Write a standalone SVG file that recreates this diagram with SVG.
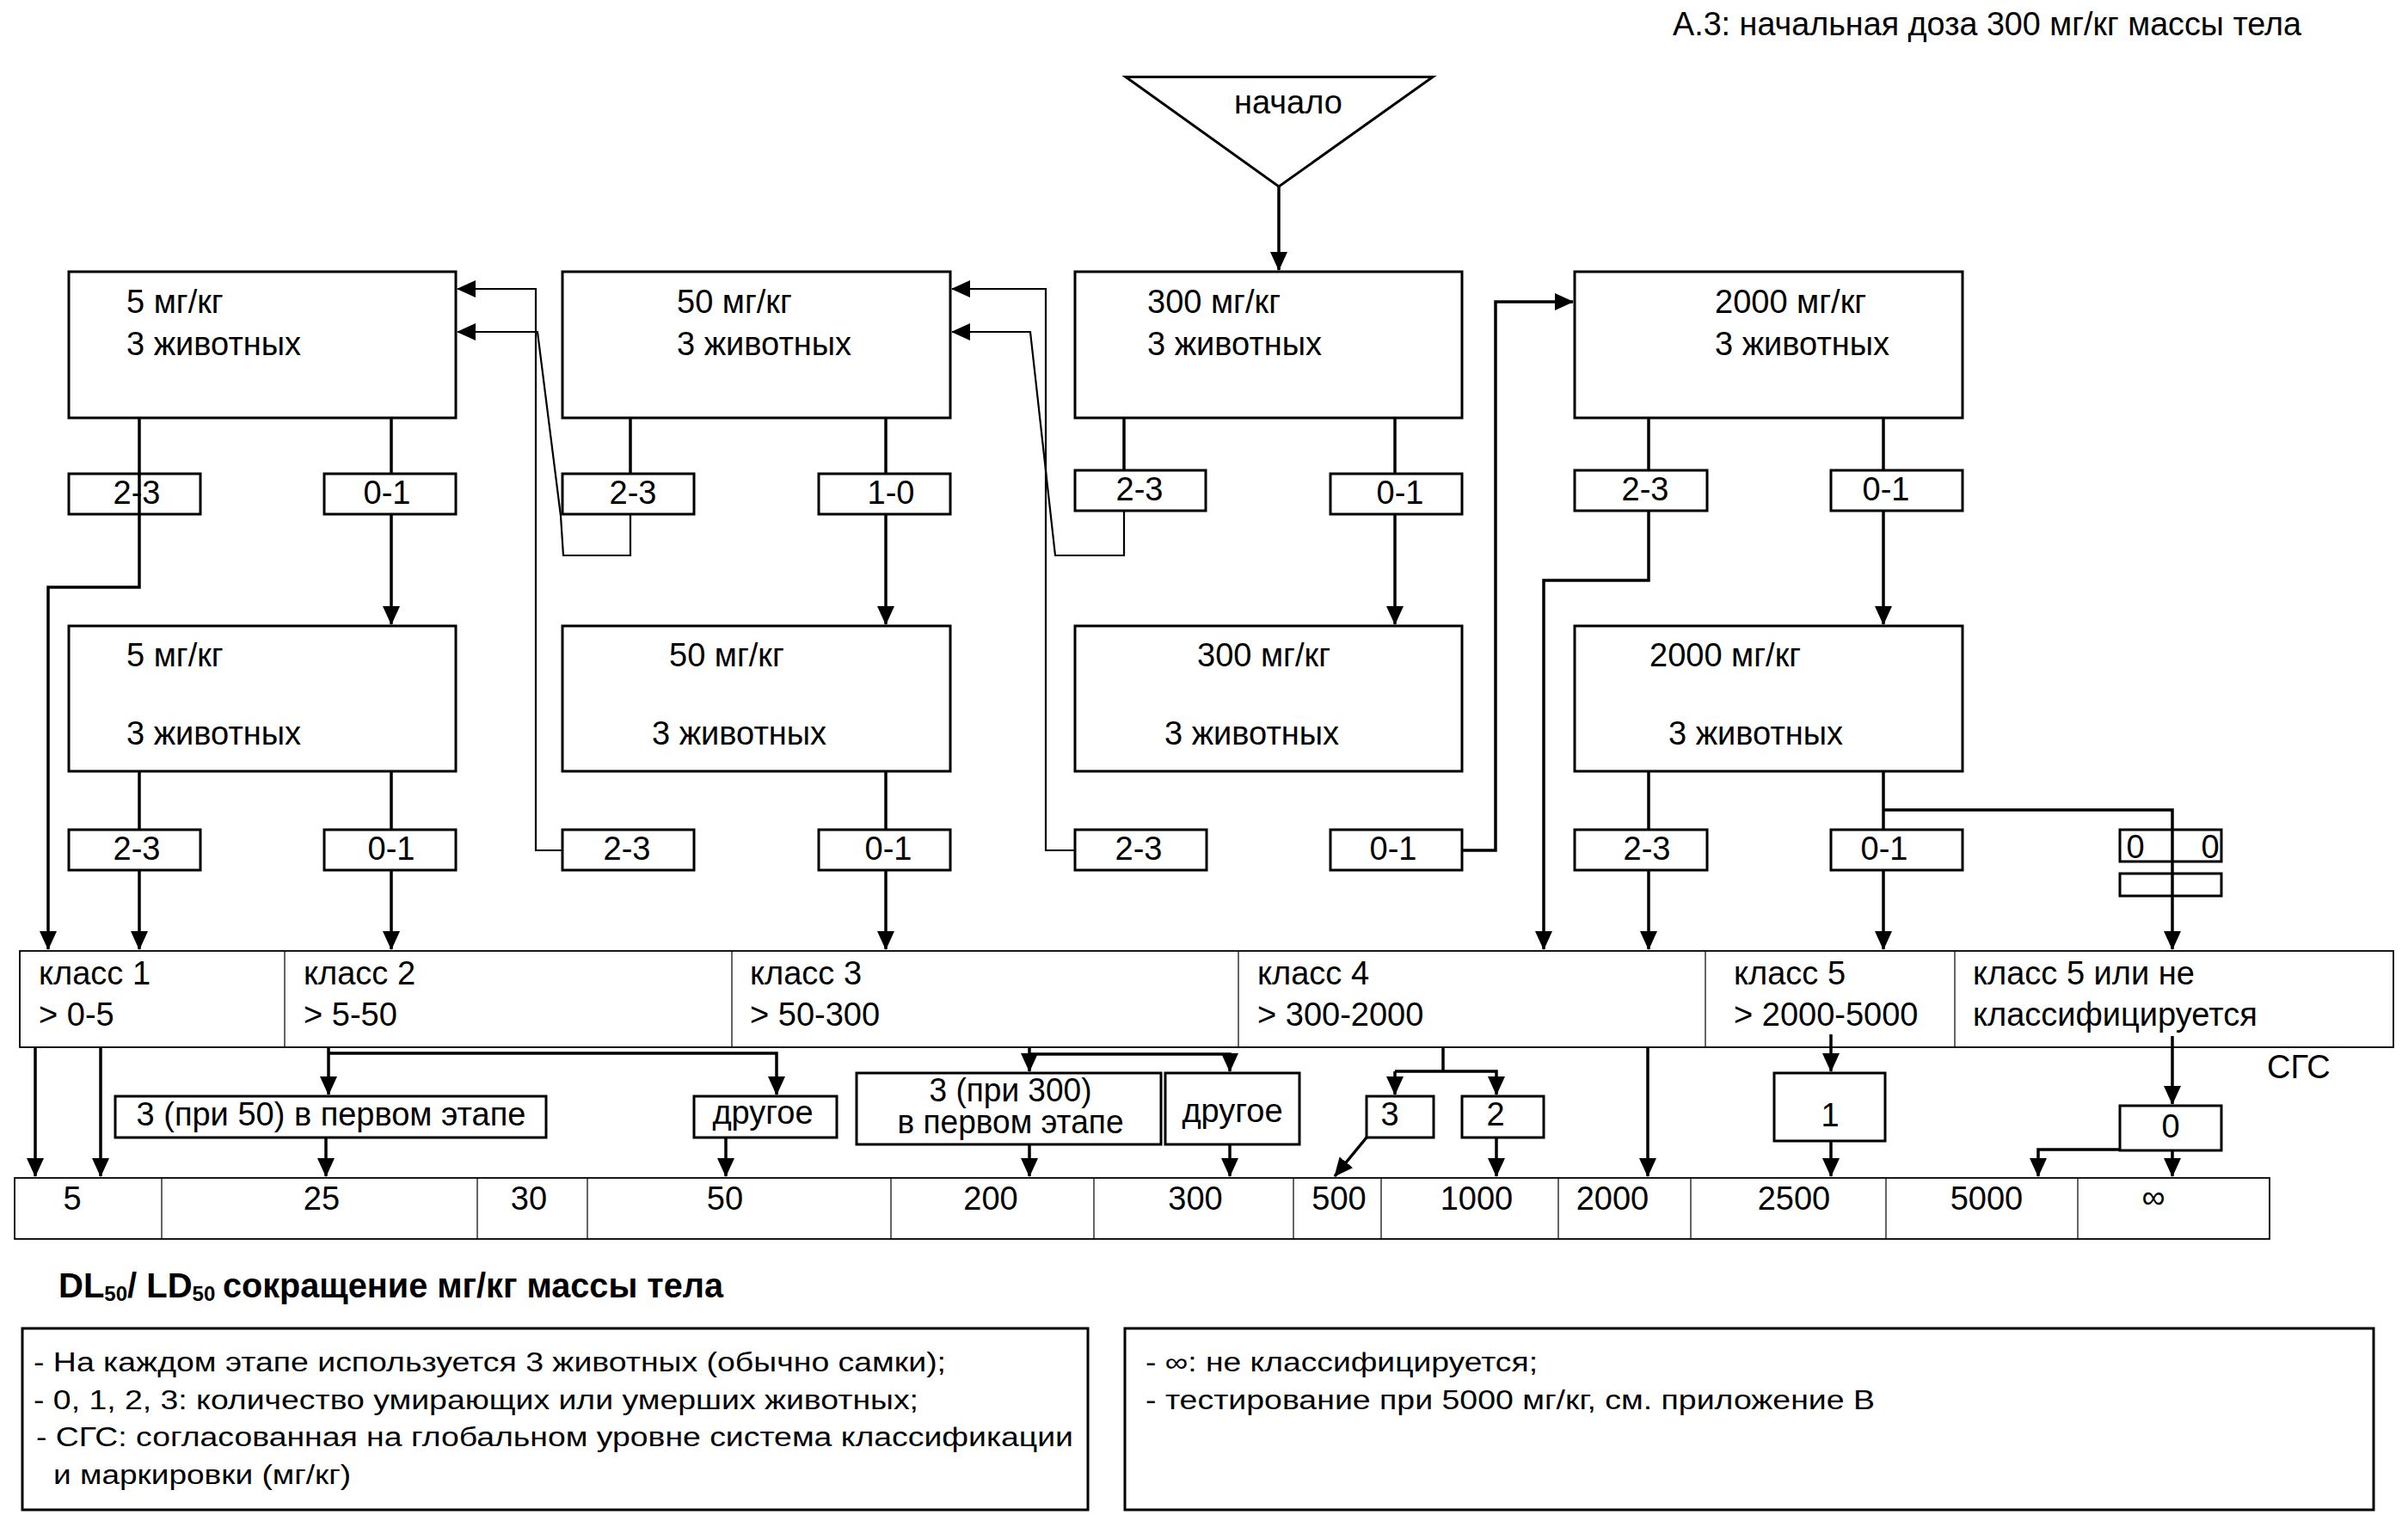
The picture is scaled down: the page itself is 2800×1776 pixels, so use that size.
<svg xmlns="http://www.w3.org/2000/svg" width="2800" height="1776" viewBox="0 0 2800 1776">
<style>
.b{fill:#fff;stroke:#000;stroke-width:3}
.r{fill:none;stroke:#000;stroke-width:1.8}
.d{fill:none;stroke:#000;stroke-width:1.2}
.c{fill:none;stroke:#000;stroke-width:3.5}
.tc{fill:none;stroke:#000;stroke-width:2.2}
.ar{marker-end:url(#a)}
text{font-family:"Liberation Sans",Arial,sans-serif;font-size:38px;fill:#000}
.m{text-anchor:middle}
.n{font-size:31px}
.bd{font-weight:bold;font-size:40px}
</style>
<defs>
<marker id="a" markerUnits="userSpaceOnUse" markerWidth="22" markerHeight="20" refX="21" refY="10" orient="auto"><path d="M0,0 L22,10 L0,20 z" fill="#000"/></marker>
</defs>
<rect width="2800" height="1776" fill="#fff"/>
<text id="title" x="1945" y="41" font-size="36" textLength="731" lengthAdjust="spacingAndGlyphs">А.3: начальная доза 300 мг/кг массы тела</text>

<g id="start"><polygon class="b" points="1309,89.5 1666,89.5 1487,217"/><text class="m" x="1498" y="132">начало</text></g>

<g id="b5a"><rect class="b" x="80" y="316" width="450" height="170"/><text x="147" y="364">5 мг/кг</text><text x="147" y="413">3 животных</text></g>
<g id="b50a"><rect class="b" x="654" y="316" width="451" height="170"/><text x="787" y="364">50 мг/кг</text><text x="787" y="413">3 животных</text></g>
<g id="b300a"><rect class="b" x="1250" y="316" width="450" height="170"/><text x="1334" y="364">300 мг/кг</text><text x="1334" y="413">3 животных</text></g>
<g id="b2000a"><rect class="b" x="1831" y="316" width="451" height="170"/><text x="1994" y="364">2000 мг/кг</text><text x="1994" y="413">3 животных</text></g>

<g id="b5b"><rect class="b" x="80" y="728" width="450" height="169"/><text x="147" y="775">5 мг/кг</text><text x="147" y="866">3 животных</text></g>
<g id="b50b"><rect class="b" x="654" y="728" width="451" height="169"/><text x="778" y="775">50 мг/кг</text><text x="758" y="866">3 животных</text></g>
<g id="b300b"><rect class="b" x="1250" y="728" width="450" height="169"/><text x="1392" y="775">300 мг/кг</text><text x="1354" y="866">3 животных</text></g>
<g id="b2000b"><rect class="b" x="1831" y="728" width="451" height="169"/><text x="1918" y="775">2000 мг/кг</text><text x="1940" y="866">3 животных</text></g>

<g id="s1"><rect class="b" x="80" y="551" width="153" height="47"/><text class="m" x="159" y="586">2-3</text></g>
<g id="s2"><rect class="b" x="377" y="551" width="153" height="47"/><text class="m" x="450" y="586">0-1</text></g>
<g id="s3"><rect class="b" x="654" y="551" width="153" height="47"/><text class="m" x="736" y="586">2-3</text></g>
<g id="s4"><rect class="b" x="952" y="551" width="153" height="47"/><text class="m" x="1036" y="586">1-0</text></g>
<g id="s5"><rect class="b" x="1250" y="547" width="152" height="47"/><text class="m" x="1325" y="582">2-3</text></g>
<g id="s6"><rect class="b" x="1547" y="551" width="153" height="47"/><text class="m" x="1628" y="586">0-1</text></g>
<g id="s7"><rect class="b" x="1831" y="547" width="154" height="47"/><text class="m" x="1913" y="582">2-3</text></g>
<g id="s8"><rect class="b" x="2129" y="547" width="153" height="47"/><text class="m" x="2193" y="582">0-1</text></g>

<g id="t1"><rect class="b" x="80" y="965" width="153" height="47"/><text class="m" x="159" y="1000">2-3</text></g>
<g id="t2"><rect class="b" x="377" y="965" width="153" height="47"/><text class="m" x="455" y="1000">0-1</text></g>
<g id="t3"><rect class="b" x="654" y="965" width="153" height="47"/><text class="m" x="729" y="1000">2-3</text></g>
<g id="t4"><rect class="b" x="952" y="965" width="153" height="47"/><text class="m" x="1033" y="1000">0-1</text></g>
<g id="t5"><rect class="b" x="1250" y="965" width="153" height="47"/><text class="m" x="1324" y="1000">2-3</text></g>
<g id="t6"><rect class="b" x="1547" y="965" width="153" height="47"/><text class="m" x="1620" y="1000">0-1</text></g>
<g id="t7"><rect class="b" x="1831" y="965" width="154" height="47"/><text class="m" x="1915" y="1000">2-3</text></g>
<g id="t8"><rect class="b" x="2129" y="965" width="153" height="47"/><text class="m" x="2191" y="1000">0-1</text></g>
<g id="t9"><rect class="b" x="2465" y="965" width="118" height="37"/><text class="m" x="2483" y="998">0</text><text class="m" x="2570" y="998">0</text></g>
<g id="t10"><rect class="b" x="2465" y="1016" width="118" height="26"/></g>

<g id="classes">
<rect class="r" x="23" y="1106" width="2760" height="112"/>
<path class="d" d="M331,1106V1218M851,1106V1218M1440,1106V1218M1983,1106V1218M2273,1106V1218"/>
<text x="45" y="1145">класс 1</text><text x="45" y="1193">&gt; 0-5</text>
<text x="353" y="1145">класс 2</text><text x="353" y="1193">&gt; 5-50</text>
<text x="872" y="1145">класс 3</text><text x="872" y="1193">&gt; 50-300</text>
<text x="1462" y="1145">класс 4</text><text x="1462" y="1193">&gt; 300-2000</text>
<text x="2016" y="1145">класс 5</text><text x="2016" y="1193">&gt; 2000-5000</text>
<text x="2294" y="1145">класс 5 или не</text><text x="2294" y="1193">классифицируется</text>
</g>
<text id="sgs" x="2636" y="1254">СГС</text>

<g id="o1"><rect class="b" x="134" y="1275" width="501" height="48"/><text class="m" x="385" y="1309">3 (при 50) в первом этапе</text></g>
<g id="o2"><rect class="b" x="807" y="1275" width="166" height="48"/><text class="m" x="887" y="1307">другое</text></g>
<g id="o3"><rect class="b" x="996" y="1248" width="354" height="83"/><text class="m" x="1175" y="1281" font-size="32" textLength="189" lengthAdjust="spacingAndGlyphs">3 (при 300)</text><text class="m" x="1175" y="1318" font-size="32" textLength="263" lengthAdjust="spacingAndGlyphs">в первом этапе</text></g>
<g id="o4"><rect class="b" x="1355" y="1248" width="156" height="83"/><text class="m" x="1433" y="1305">другое</text></g>
<g id="o5"><rect class="b" x="1589" y="1275" width="78" height="48"/><text class="m" x="1616" y="1309">3</text></g>
<g id="o6"><rect class="b" x="1700" y="1275" width="95" height="48"/><text class="m" x="1739" y="1309">2</text></g>
<g id="o7"><rect class="b" x="2063" y="1248" width="129" height="79"/><text class="m" x="2128" y="1310">1</text></g>
<g id="o8"><rect class="b" x="2465" y="1286" width="118" height="52"/><text class="m" x="2524" y="1323">0</text></g>

<g id="values">
<rect class="r" x="17" y="1370" width="2622" height="71"/>
<path class="d" d="M188,1370V1441M555,1370V1441M683,1370V1441M1036,1370V1441M1272,1370V1441M1504,1370V1441M1606,1370V1441M1812,1370V1441M1966,1370V1441M2193,1370V1441M2416,1370V1441"/>
<text class="m" x="84" y="1407">5</text><text class="m" x="374" y="1407">25</text><text class="m" x="615" y="1407">30</text><text class="m" x="843" y="1407">50</text><text class="m" x="1152" y="1407">200</text><text class="m" x="1390" y="1407">300</text><text class="m" x="1557" y="1407">500</text><text class="m" x="1717" y="1407">1000</text><text class="m" x="1875" y="1407">2000</text><text class="m" x="2086" y="1407">2500</text><text class="m" x="2310" y="1407">5000</text><text class="m" x="2504" y="1405" font-size="30">∞</text>
</g>

<g id="ld">
<text class="bd" x="68" y="1509">DL<tspan font-size="24" dy="4">50</tspan><tspan dy="-4">/ LD</tspan><tspan font-size="24" dy="4">50</tspan></text>
<text class="bd" x="259" y="1509" textLength="582" lengthAdjust="spacingAndGlyphs">сокращение мг/кг массы тела</text>
</g>

<g id="notes1"><rect class="b" x="26" y="1545" width="1239" height="211"/>
<text class="n" x="39" y="1595" textLength="1061" lengthAdjust="spacingAndGlyphs">- На каждом этапе используется 3 животных (обычно самки);</text>
<text class="n" x="39" y="1639" textLength="1029" lengthAdjust="spacingAndGlyphs">- 0, 1, 2, 3: количество умирающих или умерших животных;</text>
<text class="n" x="42" y="1682" textLength="1206" lengthAdjust="spacingAndGlyphs">- СГС: согласованная на глобальном уровне система классификации</text>
<text class="n" x="62" y="1726" textLength="346" lengthAdjust="spacingAndGlyphs">и маркировки (мг/кг)</text>
</g>
<g id="notes2"><rect class="b" x="1308" y="1545" width="1452" height="211"/>
<text class="n" x="1332" y="1595" textLength="456" lengthAdjust="spacingAndGlyphs">- ∞: не классифицируется;</text>
<text class="n" x="1332" y="1639" textLength="848" lengthAdjust="spacingAndGlyphs">- тестирование при 5000 мг/кг, см. приложение В</text>
</g>

<g id="connectors">
<path class="c ar" d="M1487,217V314"/>
<path class="c ar" d="M162,486V683H56V1104"/>
<path class="c" d="M455,486V551"/><path class="c ar" d="M455,598V726"/>
<path class="c" d="M162,897V965"/><path class="c ar" d="M162,1012V1104"/>
<path class="c" d="M455,897V965"/><path class="c ar" d="M455,1012V1104"/>
<path class="c" d="M733,486V551"/><path class="tc ar" d="M733,598V646H655L652,600L625,386H532"/>
<path class="c" d="M1030,486V551"/><path class="c ar" d="M1030,598V726"/>
<path class="tc ar" d="M654,989H623V336H532"/>
<path class="c" d="M1030,897V965"/><path class="c ar" d="M1030,1012V1104"/>
<path class="c" d="M1307,486V547"/><path class="tc ar" d="M1307,594V646H1227L1198,386H1107"/>
<path class="c" d="M1622,486V551"/><path class="c ar" d="M1622,598V726"/>
<path class="tc ar" d="M1250,989H1216V336H1107"/>
<path class="c ar" d="M1700,989H1739V351H1829"/>
<path class="c" d="M1917,486V547"/><path class="c ar" d="M1917,594V675H1795V1104"/>
<path class="c" d="M2190,486V547"/><path class="c ar" d="M2190,594V726"/>
<path class="c" d="M1917,897V965"/><path class="c ar" d="M1917,1012V1104"/>
<path class="c" d="M2190,897V965"/><path class="c ar" d="M2190,1012V1104"/>
<path class="c ar" d="M2190,942H2526V1104"/>
<path class="c ar" d="M41,1218V1368"/>
<path class="c ar" d="M117,1218V1368"/>
<path class="c ar" d="M382,1218V1273"/>
<path class="c ar" d="M382,1225H903V1273"/>
<path class="c ar" d="M379,1323V1368"/>
<path class="c ar" d="M844,1323V1368"/>
<path class="c ar" d="M1197,1218V1246"/>
<path class="c ar" d="M1197,1226H1430V1246"/>
<path class="c ar" d="M1197,1331V1368"/>
<path class="c ar" d="M1430,1331V1368"/>
<path class="c" d="M1678,1218V1246"/>
<path class="c ar" d="M1622,1246V1273"/><path class="c ar" d="M1622,1246H1740V1273"/>
<path class="c ar" d="M1589,1323L1552,1368"/>
<path class="c ar" d="M1740,1323V1368"/>
<path class="c ar" d="M1916,1218V1368"/>
<path class="c ar" d="M2129,1203V1246"/>
<path class="c ar" d="M2129,1327V1368"/>
<path class="c ar" d="M2526,1205V1284"/>
<path class="c ar" d="M2526,1338V1368"/>
<path class="c ar" d="M2465,1337H2370V1368"/>
</g>
</svg>
